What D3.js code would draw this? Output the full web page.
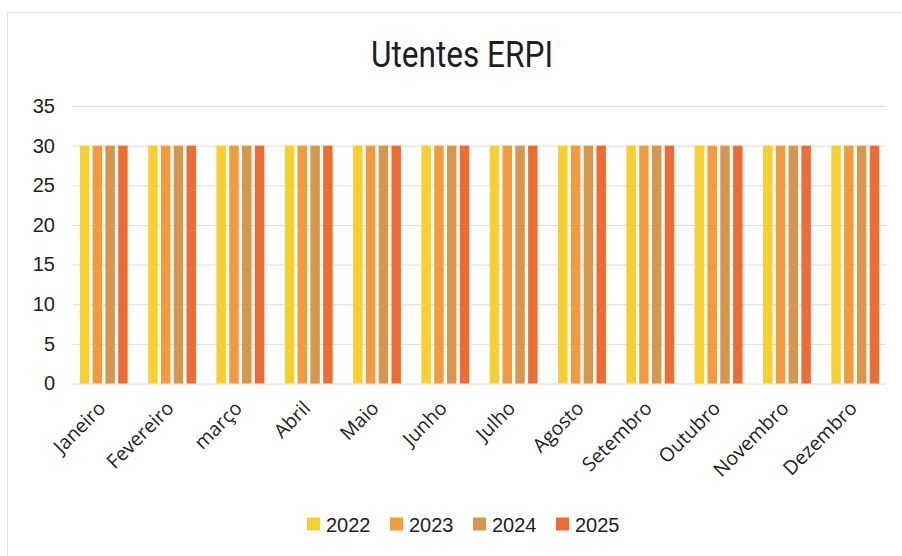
<!DOCTYPE html>
<html>
<head>
<meta charset="utf-8">
<script src="https://cdn.jsdelivr.net/npm/d3@7"></script>
<style>
  body { margin: 0; background: #fff; }
  svg { display: block; }
</style>
</head>
<body>
<script>
// data
const months = ["Janeiro", "Fevereiro", "março", "Abril", "Maio", "Junho",
  "Julho", "Agosto", "Setembro", "Outubro", "Novembro", "Dezembro"];
const years = ["2022", "2023", "2024", "2025"];
const v2022 = [30, 30, 30, 30, 30, 30, 30, 30, 30, 30, 30, 30];
const v2023 = [30, 30, 30, 30, 30, 30, 30, 30, 30, 30, 30, 30];
const v2024 = [30, 30, 30, 30, 30, 30, 30, 30, 30, 30, 30, 30];
const v2025 = [30, 30, 30, 30, 30, 30, 30, 30, 30, 30, 30, 30];
const yTicks = [0, 5, 10, 15, 20, 25, 30, 35];
const colors = ["#f8cf2c", "#f59a3c", "#d6964c", "#ee6c32"];

const series = [v2022, v2023, v2024, v2025];

const W = 902, H = 556;
const margin = {top: 106, right: 16, bottom: 172, left: 73};

const svg = d3.select("body").append("svg")
  .attr("width", W)
  .attr("height", H);

// faint chart frame
svg.append("rect")
  .attr("x", 7.5).attr("y", 12.5)
  .attr("width", W - 6).attr("height", H)
  .attr("fill", "none")
  .attr("stroke", "#e2e2e2");

const x0 = d3.scaleBand()
  .domain(months)
  .range([margin.left, W - margin.right])
  .paddingInner(0.3)
  .paddingOuter(0.1);

const x1 = d3.scaleBand()
  .domain(years)
  .range([0, x0.bandwidth()])
  .paddingInner(0.26);

const y = d3.scaleLinear()
  .domain([0, 35])
  .range([H - margin.bottom - 0.5, margin.top]);

// title
svg.append("text")
  .attr("x", 462)
  .attr("y", 67)
  .attr("text-anchor", "middle")
  .attr("textLength", 182)
  .attr("lengthAdjust", "spacingAndGlyphs")
  .style("font-family", "'Liberation Sans Narrow', Roboto, sans-serif")
  .style("font-size", "36px")
  .style("fill", "#1e1e1e")
  .text("Utentes ERPI");

// grid + y labels
const yAxis = d3.axisLeft(y)
  .tickValues(yTicks)
  .tickSize(-(W - margin.left - margin.right))
  .tickPadding(18);

const gy = svg.append("g")
  .attr("transform", "translate(" + margin.left + ",0)")
  .call(yAxis);
gy.select(".domain").remove();
gy.selectAll(".tick line").attr("stroke", "#dcdcdc");
gy.selectAll(".tick text")
  .style("font-family", "'Liberation Sans', Arial, sans-serif")
  .style("font-size", "20px")
  .style("fill", "#222");

// bars
const groups = svg.append("g")
  .selectAll("g")
  .data(months)
  .join("g")
  .attr("transform", d => "translate(" + x0(d) + ",0)");

groups.selectAll("rect")
  .data((m, i) => years.map((yr, k) => ({yr: yr, k: k, v: series[k][i]})))
  .join("rect")
  .attr("x", d => x1(d.yr))
  .attr("y", d => y(d.v))
  .attr("width", x1.bandwidth())
  .attr("height", d => y(0) - y(d.v))
  .attr("fill", d => colors[d.k]);

// x labels
const xAxis = d3.axisBottom(x0).tickSize(0).tickPadding(0);
const gx = svg.append("g")
  .attr("transform", "translate(0," + y(0) + ")")
  .call(xAxis);
gx.select(".domain").remove();
gx.selectAll(".tick text")
  .attr("text-anchor", "end")
  .attr("dy", null)
  .attr("y", 0)
  .attr("transform", "translate(3,26) rotate(-45)")
  .style("font-family", "'Open Sans', Carlito, sans-serif")
  .style("font-size", "19.5px")
  .style("fill", "#222");

// legend
const legendX = [307, 390, 473, 556];
const legend = svg.append("g")
  .selectAll("g")
  .data(years)
  .join("g")
  .attr("transform", (d, i) => "translate(" + legendX[i] + ",524)");

legend.append("rect")
  .attr("x", 0).attr("y", -6.5)
  .attr("width", 13).attr("height", 13)
  .attr("fill", (d, i) => colors[i]);

legend.append("text")
  .attr("x", 19)
  .attr("y", 8)
  .style("font-family", "'Liberation Sans', Arial, sans-serif")
  .style("font-size", "20px")
  .style("fill", "#222")
  .text(d => d);
</script>
</body>
</html>
